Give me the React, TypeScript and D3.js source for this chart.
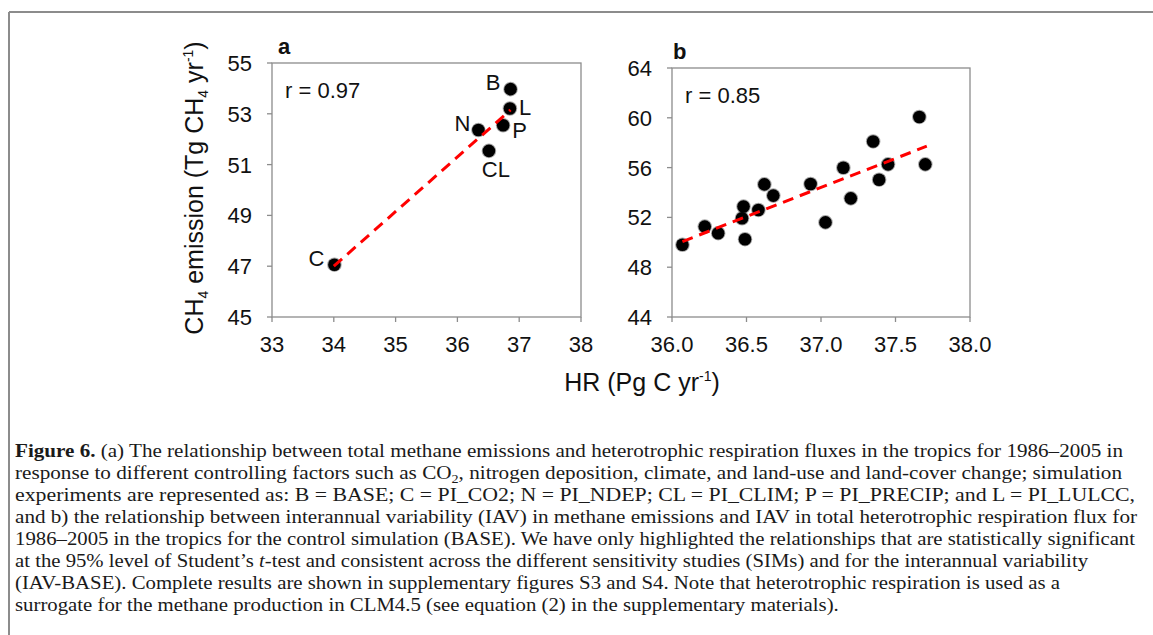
import { useLayoutEffect, useRef, useState } from "react";
import * as d3 from "d3";

// Panel a: sensitivity simulations (HR vs CH4)
const simLabels = ["B", "L", "P", "N", "CL", "C"];
const simHR = [36.86, 36.85, 36.74, 36.34, 36.51, 34.01];
const simCH4 = [53.97, 53.21, 52.55, 52.36, 51.54, 47.06];
const fitA = [[34.0, 47.0], [36.86, 53.15]];

// Panel b: interannual variability, BASE 1986-2005
const iavHR = [36.07, 36.22, 36.31, 36.48, 36.47, 36.49, 36.58, 36.62, 36.68, 36.93, 37.03, 37.15, 37.2, 37.35, 37.39, 37.45, 37.66, 37.7];
const iavCH4 = [49.8, 51.26, 50.73, 52.87, 51.93, 50.25, 52.6, 54.65, 53.75, 54.68, 51.6, 55.99, 53.53, 58.1, 55.03, 56.26, 60.07, 56.26];
const fitB = [[36.07, 50.06], [37.71, 57.72]];

const ticksAX = [33, 34, 35, 36, 37, 38];
const ticksAY = [45, 47, 49, 51, 53, 55];
const ticksBX = [36.0, 36.5, 37.0, 37.5, 38.0];
const ticksBY = [44, 48, 52, 56, 60, 64];

const captionLines = [
  "(a) The relationship between total methane emissions and heterotrophic respiration fluxes in the tropics for 1986–2005 in",
  "response to different controlling factors such as CO",
  "experiments are represented as: B = BASE; C = PI_CO2; N = PI_NDEP; CL = PI_CLIM; P = PI_PRECIP; and L = PI_LULCC,",
  "and b) the relationship between interannual variability (IAV) in methane emissions and IAV in total heterotrophic respiration flux for",
  "1986–2005 in the tropics for the control simulation (BASE). We have only highlighted the relationships that are statistically significant",
  "at the 95% level of Student’s ",
  "(IAV-BASE). Complete results are shown in supplementary figures S3 and S4. Note that heterotrophic respiration is used as a",
  "surrogate for the methane production in CLM4.5 (see equation (2) in the supplementary materials).",
];
// right ends; last line follows the others' squeeze
const captionEnds = [1123, 1122, 1135, 1137, 1135, 1088, 1060, 0];

const SANS = "'Liberation Sans', Arial, sans-serif";
const SERIF = "'Liberation Serif', 'Times New Roman', serif";
const FRAME = "#8c8c8c";
const CAP_X = 15;

const pointLabelOffsets: Record<string, [number, number, string]> = {
  B: [-10, 1, "end"],
  L: [9, 7, "start"],
  P: [9, 13, "start"],
  N: [-8, 1, "end"],
  CL: [7, 26, "middle"],
  C: [-10, 1, "end"],
};

function Panel({
  x0, x1, y0, y1, xd, yd, xt, yt, xfmt, xs, ys, fit, r, letter, lx, ly, labels,
}: any) {
  const x = d3.scaleLinear().domain(xd).range([x0, x1]);
  const y = d3.scaleLinear().domain(yd).range([y1, y0]);
  const line = d3.line<number[]>().x((d) => x(d[0])).y((d) => y(d[1]));
  return (
    <g>
      <rect x={x0} y={y0} width={x1 - x0} height={y1 - y0} fill="none" stroke={FRAME} strokeWidth={1.3} />
      {yt.map((t: number) => (
        <g key={"y" + t}>
          <line x1={x0 - 5} x2={x0} y1={y(t)} y2={y(t)} stroke={FRAME} strokeWidth={1.3} />
          <text x={x0 - 20} y={y(t)} dy="0.36em" textAnchor="end" fontSize={22} fontFamily={SANS} fill="#111">{t}</text>
        </g>
      ))}
      {xt.map((t: number) => (
        <g key={"x" + t}>
          <line x1={x(t)} x2={x(t)} y1={y1} y2={y1 + 5} stroke={FRAME} strokeWidth={1.3} />
          <text x={x(t)} y={y1 + 35} textAnchor="middle" fontSize={22} fontFamily={SANS} fill="#111">{xfmt(t)}</text>
        </g>
      ))}
      <text x={lx} y={ly} fontSize={22} fontWeight="bold" fontFamily={SANS} fill="#111">{letter}</text>
      <text x={x0 + 13} y={y0 + 35} fontSize={22} fontFamily={SANS} fill="#111">{r}</text>
      {xs.map((v: number, i: number) => (
        <circle key={i} cx={x(v)} cy={y(ys[i])} r={6.3} fill="#000" stroke="rgba(0,0,0,0.35)" strokeWidth={2} />
      ))}
      <path d={line(fit) ?? ""} fill="none" stroke="#ff0000" strokeWidth={3} strokeDasharray="11,7" />
      {labels &&
        labels.map((lab: string, i: number) => {
          const [dx, dy, anchor] = pointLabelOffsets[lab];
          return (
            <text key={lab} x={x(xs[i]) + dx} y={y(ys[i]) + dy} textAnchor={anchor} fontSize={22} fontFamily={SANS} fill="#111">{lab}</text>
          );
        })}
    </g>
  );
}

function lineBody(s: string, i: number) {
  if (i === 0)
    return (
      <>
        <tspan fontWeight="bold">Figure 6.</tspan> {s}
      </>
    );
  if (i === 1)
    return (
      <>
        {s}<tspan fontSize={12} dy={4}>2</tspan><tspan dy={-4}>, nitrogen deposition, climate, and land-use and land-cover change; simulation</tspan>
      </>
    );
  if (i === 5)
    return (
      <>
        {s}<tspan fontStyle="italic">t</tspan>-test and consistent across the different sensitivity studies (SIMs) and for the interannual variability
      </>
    );
  return s;
}

export default function App() {
  const refs = useRef<(SVGTextElement | null)[]>([]);
  const [lens, setLens] = useState<number[] | null>(null);

  useLayoutEffect(() => {
    const nat = refs.current.map((el) => (el ? el.getComputedTextLength() : 0));
    const squeeze = (captionEnds[6] - CAP_X) / nat[6];
    setLens(captionEnds.map((e, i) => (e > 0 ? e - CAP_X : nat[i] * squeeze)));
  }, []);

  const lineY = (i: number) => 457 + i * 22;
  return (
    <div style={{ position: "fixed", left: 0, top: 0 }}>
      <svg width={1153} height={635} style={{ display: "block", background: "#fff" }}>
        <line x1={9} x2={1153} y1={12} y2={12} stroke={FRAME} strokeWidth={2} />
        <line x1={9} x2={9} y1={12} y2={635} stroke={FRAME} strokeWidth={2} />

        <Panel x0={272} x1={581} y0={63} y1={317} xd={[33, 38]} yd={[45, 55]}
          xt={ticksAX} yt={ticksAY} xfmt={(t: number) => String(t)}
          xs={simHR} ys={simCH4} fit={fitA} r="r = 0.97" letter="a" lx={278} ly={54} labels={simLabels} />
        <Panel x0={672} x1={970} y0={68} y1={317} xd={[36, 38]} yd={[44, 64]}
          xt={ticksBX} yt={ticksBY} xfmt={(t: number) => t.toFixed(1)}
          xs={iavHR} ys={iavCH4} fit={fitB} r="r = 0.85" letter="b" lx={673} ly={59} labels={null} />

        <text transform="translate(203,188) rotate(-90)" textAnchor="middle" fontSize={25} fontFamily={SANS} fill="#111">
          CH<tspan fontSize={14} dy={5}>4</tspan><tspan dy={-5}> emission (Tg CH</tspan><tspan fontSize={14} dy={5}>4</tspan><tspan dy={-5}> yr</tspan><tspan fontSize={14} dy={-10}>-1</tspan><tspan dy={10}>)</tspan>
        </text>
        <text x={642} y={391} textAnchor="middle" fontSize={25} fontFamily={SANS} fill="#111">
          HR (Pg C yr<tspan fontSize={14} dy={-10}>-1</tspan><tspan dy={10}>)</tspan>
        </text>

        <g fontFamily={SERIF} fontSize={18} fill="#1a1a1a">
          {captionLines.map((s, i) => (
            <text
              key={i}
              ref={(el) => { refs.current[i] = el; }}
              x={CAP_X}
              y={lineY(i)}
              textLength={lens ? lens[i] : undefined}
              lengthAdjust="spacingAndGlyphs"
            >
              {lineBody(s, i)}
            </text>
          ))}
        </g>
      </svg>
    </div>
  );
}
